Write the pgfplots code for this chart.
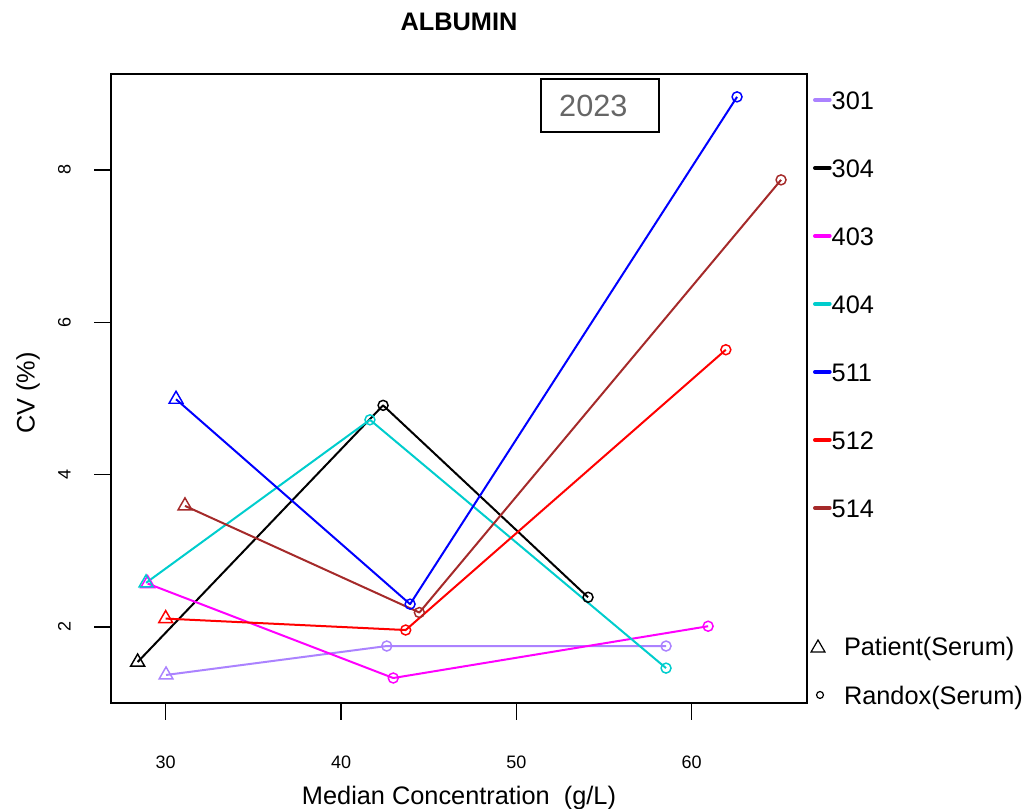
\documentclass[border=0pt]{standalone}
\usepackage{pgfplots}
\pgfplotsset{compat=1.18}
\usepackage{fontspec}
\setmainfont{Liberation Sans}
\definecolor{c301}{HTML}{AB82FF}
\definecolor{c304}{HTML}{000000}
\definecolor{c403}{HTML}{FF00FF}
\definecolor{c404}{HTML}{00CDCD}
\definecolor{c511}{HTML}{0000FF}
\definecolor{c512}{HTML}{FF0000}
\definecolor{c514}{HTML}{A52A2A}
\definecolor{txtgray}{HTML}{666666}
\pgfplotsset{
  ser/.style={#1, line width=1.5pt, line join=round},
  tri/.style={#1, only marks, mark=triangle, mark size=6pt, mark options={solid, line width=1.1pt}, forget plot},
  circ/.style={#1, only marks, mark=o, mark size=3.75pt, mark options={solid, line width=1.1pt}, forget plot},
}
\begin{document}
\begin{tikzpicture}
\useasboundingbox (0,0) rectangle (768.75pt,606pt);
\begin{axis}[
  at={(83.25pt,78.75pt)}, anchor=south west,
  scale only axis, width=522pt, height=471.75pt,
  xmin=26.88, xmax=66.58, ymin=1.002, ymax=9.26,
  xtick={30,40,50,60}, ytick={2,4,6,8},
  tick align=outside, major tick length=12.5pt,
  xtick pos=bottom, ytick pos=left,
  tick style={black, line width=0.8pt},
  axis line style={line width=0.8pt},
  /pgf/number format/assume math mode=true,
  tick label style={font=\fontsize{13.5}{15}\selectfont},
  xticklabel style={anchor=center, yshift=-32pt},
  yticklabel style={xshift=-22.5pt, rotate=90, anchor=center},
  xlabel={Median Concentration\ \ (g/L)},
  ylabel={CV (\%)},
  xlabel style={at={(axis description cs:0.5,-0.151)}, anchor=center, font=\fontsize{19}{21}\selectfont},
  ylabel style={at={(axis description cs:-0.119,0.493)}, anchor=center, font=\fontsize{19}{21}\selectfont},
  title={ALBUMIN},
  title style={at={(axis description cs:0.5,1.070)}, anchor=center, font=\bfseries\fontsize{19}{21}\selectfont},
  legend style={draw=none, fill=none, at={(axis description cs:1.0086,0.9731)}, anchor=north west,
    inner sep=0pt, outer sep=0pt, row sep=37.4pt,
    nodes={inner sep=0pt, text height=13.6pt, text depth=0pt, font=\fontsize{19}{21}\selectfont}},
  legend cell align=left,
  legend image code/.code={\draw[#1, line width=3pt, line cap=round] (1.5pt,0pt) -- (12.5pt,0pt);},
]
% 301
\addplot[ser=c301] coordinates {(30.02,1.37) (42.61,1.75) (58.54,1.75)};
\addlegendentry{301}
\addplot[tri=c301] coordinates {(30.02,1.37)};
\addplot[circ=c301] coordinates {(42.61,1.75) (58.54,1.75)};
% 304
\addplot[ser=c304] coordinates {(28.40,1.54) (42.40,4.91) (54.09,2.39)};
\addlegendentry{304}
\addplot[tri=c304] coordinates {(28.40,1.54)};
\addplot[circ=c304] coordinates {(42.40,4.91) (54.09,2.39)};
% 403
\addplot[ser=c403] coordinates {(28.97,2.57) (42.98,1.33) (60.94,2.01)};
\addlegendentry{403}
\addplot[tri=c403] coordinates {(28.97,2.57)};
\addplot[circ=c403] coordinates {(42.98,1.33) (60.94,2.01)};
% 404
\addplot[ser=c404] coordinates {(28.88,2.58) (41.65,4.72) (58.54,1.46)};
\addlegendentry{404}
\addplot[tri=c404] coordinates {(28.88,2.58)};
\addplot[circ=c404] coordinates {(41.65,4.72) (58.54,1.46)};
% 511
\addplot[ser=c511] coordinates {(30.59,4.99) (43.94,2.30) (62.59,8.96)};
\addlegendentry{511}
\addplot[tri=c511] coordinates {(30.59,4.99)};
\addplot[circ=c511] coordinates {(43.94,2.30) (62.59,8.96)};
% 512
\addplot[ser=c512] coordinates {(30.00,2.11) (43.69,1.96) (61.95,5.64)};
\addlegendentry{512}
\addplot[tri=c512] coordinates {(30.00,2.11)};
\addplot[circ=c512] coordinates {(43.69,1.96) (61.95,5.64)};
% 514
\addplot[ser=c514] coordinates {(31.10,3.59) (44.47,2.19) (65.10,7.87)};
\addlegendentry{514}
\addplot[tri=c514] coordinates {(31.10,3.59)};
\addplot[circ=c514] coordinates {(44.47,2.19) (65.10,7.87)};
\node[draw, line width=1.1pt, minimum width=88.5pt, minimum height=39.75pt, inner sep=0pt,
  text=txtgray, font=\fontsize{23}{26}\selectfont] at (rel axis cs:0.7026,0.950) {2023\kern10pt};
\end{axis}
\begin{axis}[
  at={(83.25pt,78.75pt)}, anchor=south west,
  scale only axis, width=522pt, height=471.75pt,
  xmin=26.88, xmax=66.58, ymin=1.002, ymax=9.26,
  hide axis,
  legend style={draw=none, fill=none, at={(axis description cs:1.0043,0.1051)}, anchor=north west,
    inner sep=0pt, outer sep=0pt, row sep=23.15pt,
    nodes={inner sep=0pt, text height=13.6pt, text depth=0pt, font=\fontsize{19}{21}\selectfont}},
  legend cell align=left,
]
\addlegendimage{black, legend image code/.code={\draw[mark=triangle, mark size=6pt, line width=0.9pt] plot coordinates {(6pt,-1.5pt)}; \path[draw=none] (0pt,0pt) -- (25.5pt,0pt);}}
\addlegendentry{Patient(Serum)}
\addlegendimage{black, legend image code/.code={\draw[mark=o, mark size=2.6pt, line width=0.9pt] plot coordinates {(7.5pt,0pt)}; \path[draw=none] (0pt,0pt) -- (25.5pt,0pt);}}
\addlegendentry{Randox(Serum)}
\end{axis}
\end{tikzpicture}
\end{document}
